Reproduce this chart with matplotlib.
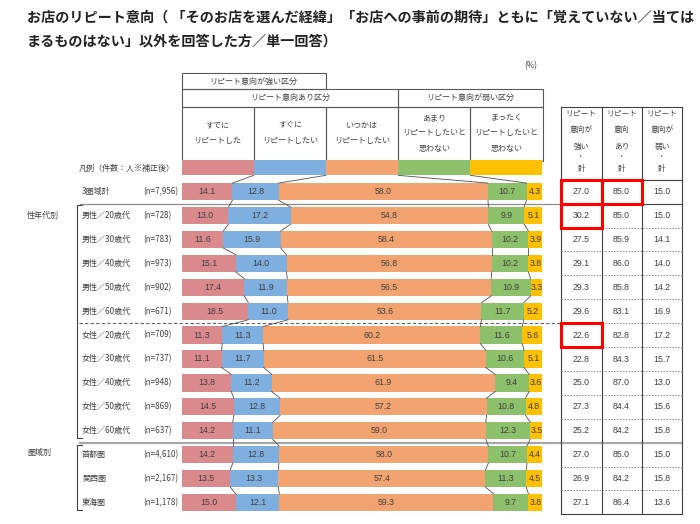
import matplotlib
matplotlib.use('Agg')
import matplotlib.pyplot as plt
from matplotlib.patches import Rectangle
import numpy as np

plt.rcParams['font.family'] = ['Noto Sans CJK JP', 'DejaVu Sans']

# --- data ---
rows = ['3圏域計', '男性／20歳代', '男性／30歳代', '男性／40歳代', '男性／50歳代', '男性／60歳代',
        '女性／20歳代', '女性／30歳代', '女性／40歳代', '女性／50歳代', '女性／60歳代',
        '首都圏', '関西圏', '東海圏']
ns = ['(n=7,956)', '(n=728)', '(n=783)', '(n=973)', '(n=902)', '(n=671)',
      '(n=709)', '(n=737)', '(n=948)', '(n=869)', '(n=637)',
      '(n=4,610)', '(n=2,167)', '(n=1,178)']
already = [14.1, 13.0, 11.6, 15.1, 17.4, 18.5, 11.3, 11.1, 13.8, 14.5, 14.2, 14.2, 13.5, 15.0]
soon = [12.8, 17.2, 15.9, 14.0, 11.9, 11.0, 11.3, 11.7, 11.2, 12.8, 11.1, 12.8, 13.3, 12.1]
someday = [58.0, 54.8, 58.4, 56.8, 56.5, 53.6, 60.2, 61.5, 61.9, 57.2, 59.0, 58.0, 57.4, 59.3]
not_much = [10.7, 9.9, 10.2, 10.2, 10.9, 11.7, 11.6, 10.6, 9.4, 10.8, 12.3, 10.7, 11.3, 9.7]
not_at_all = [4.3, 5.1, 3.9, 3.8, 3.3, 5.2, 5.6, 5.1, 3.6, 4.8, 3.5, 4.4, 4.5, 3.8]
strong_total = [27.0, 30.2, 27.5, 29.1, 29.3, 29.6, 22.6, 22.8, 25.0, 27.3, 25.2, 27.0, 26.9, 27.1]
intent_total = [85.0, 85.0, 85.9, 86.0, 85.8, 83.1, 82.8, 84.3, 87.0, 84.4, 84.2, 85.0, 84.2, 86.4]
weak_total = [15.0, 15.0, 14.1, 14.0, 14.2, 16.9, 17.2, 15.7, 13.0, 15.6, 15.8, 15.0, 15.8, 13.6]

seg_names = ['すでに\nリピートした', 'すぐに\nリピートしたい', 'いつかは\nリピートしたい',
             'あまり\nリピートしたいと\n思わない', 'まったく\nリピートしたいと\n思わない']
colors = ['#DA8A8D', '#7EAFDF', '#F2A36F', '#8DC06A', '#FFC000']
legend_widths = [20, 20, 20, 20, 20]

table_heads = ['リピート\n意向が\n強い\n・\n計', 'リピート\n意向\nあり\n・\n計', 'リピート\n意向が\n弱い\n・\n計']
highlight = [(0, 0), (0, 1), (1, 0), (6, 0)]  # (row, col)

TXT = '#404040'
NUMFONT = ['Liberation Sans', 'DejaVu Sans']

fig = plt.figure(figsize=(7, 5.24), dpi=100)

# overlay axes in pixel coords for headers, labels, table
ov = fig.add_axes([0, 0, 1, 1])
ov.set_xlim(0, 700)
ov.set_ylim(524, 0)
ov.axis('off')

Y0, DY = 191.7, 23.9
X0, XW = 181.5, 361.0


def ry(i):
    return Y0 + i * DY


# title
ov.text(27, 18, 'お店のリピート意向（ 「そのお店を選んだ経緯」「お店への事前の期待」ともに「覚えていない／当ては',
        fontsize=10.2, fontweight='bold', va='center', color='#222222')
ov.text(27, 42, 'まるものはない」以外を回答した方／単一回答）',
        fontsize=10.2, fontweight='bold', va='center', color='#222222')
ov.text(537, 66, '(%)', fontsize=5.8, ha='right', va='center', color=TXT)

# header boxes
hx = [X0 + XW * k / 5 for k in range(6)]
lc = '#595959'
ov.add_patch(Rectangle((hx[0], 72.7), hx[2] - hx[0], 89.3 - 72.7, fill=False, ec=lc, lw=0.8))
ov.text((hx[0] + hx[2]) / 2, 81, 'リピート意向が強い区分', fontsize=5.8, ha='center', va='center', color=TXT)
ov.add_patch(Rectangle((hx[0], 89.3), hx[3] - hx[0], 106.5 - 89.3, fill=False, ec=lc, lw=0.8))
ov.add_patch(Rectangle((hx[3], 89.3), hx[5] - hx[3], 106.5 - 89.3, fill=False, ec=lc, lw=0.8))
ov.text((hx[0] + hx[3]) / 2, 97.9, 'リピート意向あり区分', fontsize=5.8, ha='center', va='center', color=TXT)
ov.text((hx[3] + hx[5]) / 2, 97.9, 'リピート意向が弱い区分', fontsize=5.8, ha='center', va='center', color=TXT)
for k in range(5):
    ov.add_patch(Rectangle((hx[k], 106.5), hx[k + 1] - hx[k], 160.5 - 106.5, fill=False, ec=lc, lw=0.8))
    ov.text((hx[k] + hx[k + 1]) / 2, 133, seg_names[k], fontsize=5.8, ha='center', va='center',
            color=TXT, linespacing=1.9)

# legend / row labels
ov.text(175, 168.5, '凡例（件数：人※補正後）', fontsize=5.8, ha='right', va='center', color=TXT)
for i, (r, n) in enumerate(zip(rows, ns)):
    ov.text(82, ry(i), r, fontsize=5.8, ha='left', va='center', color=TXT)
    ov.text(143, ry(i), n, fontsize=5.8, ha='left', va='center', color=TXT)
ov.text(27, ry(1), '性年代別', fontsize=5.8, ha='left', va='center', color=TXT)
ov.text(27, ry(11) - 2, '圏域別', fontsize=5.8, ha='left', va='center', color=TXT)

# brackets
for top, bot in [(205, 438), (445, 510)]:
    ov.plot([82, 76.5, 76.5, 82], [top, top, bot, bot], color='#404040', lw=0.8)

# separators
ov.plot([80, 561], [ry(0.5), ry(0.5)], color='#8c8c8c', lw=0.9)
ov.plot([79, 561], [ry(5.5), ry(5.5)], color='#606060', lw=0.8, ls=(0, (3, 2)))
ov.plot([80, 682.3], [ry(10.5), ry(10.5)], color='#a6a6a6', lw=1.6)

# right-hand table
tx = [561, 601.5, 641.7, 682.3]
ttop, tbot = 106.7, ry(13.5)
for x in tx:
    ov.plot([x, x], [ttop, tbot], color='#404040', lw=0.8)
ov.plot([tx[0], tx[-1]], [ttop, ttop], color='#404040', lw=0.8)
ov.plot([tx[0], tx[-1]], [ry(-0.5), ry(-0.5)], color='#404040', lw=0.8)
ov.plot([tx[0], tx[-1]], [ry(0.5), ry(0.5)], color='#404040', lw=0.8)
ov.plot([tx[0], tx[-1]], [tbot, tbot], color='#404040', lw=0.8)
for i in range(1, 13):
    if i == 10:
        continue
    ov.plot([tx[0], tx[-1]], [ry(i + 0.5), ry(i + 0.5)], color='#808080', lw=0.6, ls=(0, (2, 1.5)))
head_y = [113.3, 130, 146.7, 156.7, 169]
for c, head in enumerate(table_heads):
    cx = (tx[c] + tx[c + 1]) / 2
    for line, yy in zip(head.split('\n'), head_y):
        ov.text(cx, yy, line, fontsize=5.6, ha='center', va='center', color=TXT)
for c, vals in enumerate([strong_total, intent_total, weak_total]):
    cx = (tx[c] + tx[c + 1]) / 2
    for i, v in enumerate(vals):
        ov.text(cx, ry(i), f'{v:.1f}', fontsize=6.3, ha='center', va='center', color=TXT, family=NUMFONT)
for r, c in highlight:
    ov.add_patch(Rectangle((tx[c], ry(r - 0.5)), tx[c + 1] - tx[c], DY, fill=False, ec='#FF0000', lw=2.2,
                           zorder=5))

# bar axes
ax = fig.add_axes([X0 / 700, 1 - ry(13.5) / 524, XW / 700, 15 * DY / 524])
ax.set_xlim(0, 100)
ax.set_ylim(13.5, -1.5)
ax.axis('off')

hb, hl = 0.72, 0.63
data = np.array([already, soon, someday, not_much, not_at_all]).T
ypos = np.arange(len(rows))
left = np.zeros(len(rows))
for k in range(5):
    ax.barh(ypos, data[:, k], left=left, height=hb, color=colors[k], edgecolor='none')
    for i in range(len(rows)):
        ax.text(left[i] + data[i, k] / 2, i, f'{data[i, k]:.1f}', fontsize=6.3, ha='center', va='center',
                color=TXT, family=NUMFONT)
    left += data[:, k]

leg_left = np.concatenate([[0], np.cumsum(legend_widths)[:-1]])
ax.barh([-1] * 5, legend_widths, left=leg_left, height=hl, color=colors, edgecolor='none')

# connector lines between consecutive bars
cum = np.cumsum(data[:, :4], axis=1)
leg_cum = np.cumsum(legend_widths)[:4]
prev_b, prev_y = leg_cum, -1 + hl / 2
for i in range(len(rows)):
    for k in range(4):
        ax.plot([prev_b[k], cum[i, k]], [prev_y, i - hb / 2], color='#505050', lw=0.6)
    prev_b, prev_y = cum[i], i + hb / 2

fig.savefig('out.png', dpi=100)
